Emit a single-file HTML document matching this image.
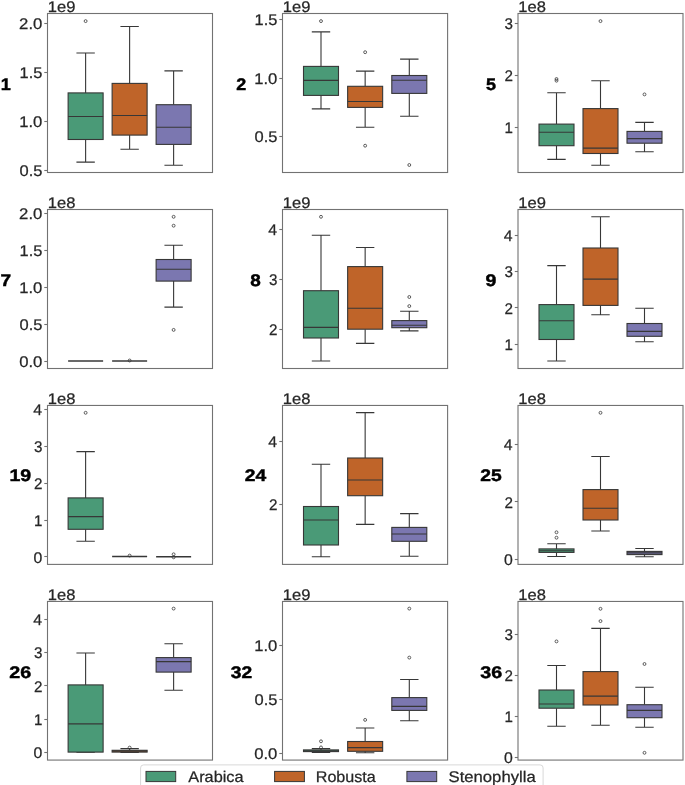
<!DOCTYPE html>
<html><head><meta charset="utf-8"><style>
html,body{margin:0;padding:0;background:#fff;width:685px;height:785px;overflow:hidden}
svg{display:block;font-family:"Liberation Sans",sans-serif;will-change:transform;text-rendering:geometricPrecision}
</style></head><body>
<svg width="685" height="785" viewBox="0 0 685 785">
<rect width="685" height="785" fill="#ffffff"/>
<path d="M85.62 92.90V53.00M85.62 139.50V162.10M76.42 53.00H94.82M76.42 162.10H94.82" stroke="#373737" stroke-width="1.1" fill="none"/>
<rect x="68.12" y="92.90" width="35.00" height="46.60" fill="#4a9a77" stroke="#373737" stroke-width="1.1"/>
<path d="M68.12 116.50H103.12" stroke="#373737" stroke-width="1.1"/>
<circle cx="85.62" cy="21.10" r="1.45" fill="none" stroke="#373737" stroke-width="0.8"/>
<path d="M129.62 83.40V26.50M129.62 135.10V149.30M120.42 26.50H138.82M120.42 149.30H138.82" stroke="#373737" stroke-width="1.1" fill="none"/>
<rect x="112.12" y="83.40" width="35.00" height="51.70" fill="#bf6429" stroke="#373737" stroke-width="1.1"/>
<path d="M112.12 115.50H147.12" stroke="#373737" stroke-width="1.1"/>
<path d="M173.62 104.70V70.90M173.62 144.40V165.30M164.42 70.90H182.82M164.42 165.30H182.82" stroke="#373737" stroke-width="1.1" fill="none"/>
<rect x="156.12" y="104.70" width="35.00" height="39.70" fill="#7b77b0" stroke="#373737" stroke-width="1.1"/>
<path d="M156.12 127.30H191.12" stroke="#373737" stroke-width="1.1"/>
<rect x="47.5" y="13.5" width="165.00" height="159.00" fill="none" stroke="#727272" stroke-width="1.1"/>
<path d="M44.30 23.50H47.5" stroke="#727272" stroke-width="1.1"/>
<text x="19.10" y="28.81" font-size="15.45" textLength="23.26" lengthAdjust="spacingAndGlyphs" fill="#262626" stroke="#262626" stroke-width="0.25">2.0</text>
<path d="M44.30 72.50H47.5" stroke="#727272" stroke-width="1.1"/>
<text x="19.55" y="77.92" font-size="15.45" textLength="22.84" lengthAdjust="spacingAndGlyphs" fill="#262626" stroke="#262626" stroke-width="0.25">1.5</text>
<path d="M44.30 121.50H47.5" stroke="#727272" stroke-width="1.1"/>
<text x="19.22" y="127.03" font-size="15.45" textLength="23.13" lengthAdjust="spacingAndGlyphs" fill="#262626" stroke="#262626" stroke-width="0.25">1.0</text>
<path d="M44.30 170.50H47.5" stroke="#727272" stroke-width="1.1"/>
<text x="19.50" y="176.14" font-size="15.45" textLength="22.89" lengthAdjust="spacingAndGlyphs" fill="#262626" stroke="#262626" stroke-width="0.25">0.5</text>
<text x="47.84" y="12.10" font-size="15.45" textLength="27.66" lengthAdjust="spacingAndGlyphs" fill="#262626" stroke="#262626" stroke-width="0.25">1e9</text>
<text x="0.88" y="89.90" font-size="16.79" font-weight="bold" textLength="10.02" lengthAdjust="spacingAndGlyphs" fill="#000" stroke="#000" stroke-width="0.45">1</text>
<path d="M321.00 66.40V31.90M321.00 95.40V108.90M311.80 31.90H330.20M311.80 108.90H330.20" stroke="#373737" stroke-width="1.1" fill="none"/>
<rect x="303.50" y="66.40" width="35.00" height="29.00" fill="#4a9a77" stroke="#373737" stroke-width="1.1"/>
<path d="M303.50 80.40H338.50" stroke="#373737" stroke-width="1.1"/>
<circle cx="321.00" cy="21.10" r="1.45" fill="none" stroke="#373737" stroke-width="0.8"/>
<path d="M365.15 86.30V71.10M365.15 107.40V127.30M355.95 71.10H374.35M355.95 127.30H374.35" stroke="#373737" stroke-width="1.1" fill="none"/>
<rect x="347.65" y="86.30" width="35.00" height="21.10" fill="#bf6429" stroke="#373737" stroke-width="1.1"/>
<path d="M347.65 101.50H382.65" stroke="#373737" stroke-width="1.1"/>
<circle cx="365.15" cy="52.20" r="1.45" fill="none" stroke="#373737" stroke-width="0.8"/>
<circle cx="365.15" cy="145.70" r="1.45" fill="none" stroke="#373737" stroke-width="0.8"/>
<path d="M409.30 75.50V59.10M409.30 93.40V116.20M400.10 59.10H418.50M400.10 116.20H418.50" stroke="#373737" stroke-width="1.1" fill="none"/>
<rect x="391.80" y="75.50" width="35.00" height="17.90" fill="#7b77b0" stroke="#373737" stroke-width="1.1"/>
<path d="M391.80 80.20H426.80" stroke="#373737" stroke-width="1.1"/>
<circle cx="409.30" cy="165.00" r="1.45" fill="none" stroke="#373737" stroke-width="0.8"/>
<rect x="282.5" y="13.5" width="165.10" height="159.00" fill="none" stroke="#727272" stroke-width="1.1"/>
<path d="M279.30 19.50H282.5" stroke="#727272" stroke-width="1.1"/>
<text x="254.55" y="25.45" font-size="15.45" textLength="22.84" lengthAdjust="spacingAndGlyphs" fill="#262626" stroke="#262626" stroke-width="0.25">1.5</text>
<path d="M279.30 78.50H282.5" stroke="#727272" stroke-width="1.1"/>
<text x="254.22" y="83.80" font-size="15.45" textLength="23.13" lengthAdjust="spacingAndGlyphs" fill="#262626" stroke="#262626" stroke-width="0.25">1.0</text>
<path d="M279.30 136.50H282.5" stroke="#727272" stroke-width="1.1"/>
<text x="254.50" y="142.15" font-size="15.45" textLength="22.89" lengthAdjust="spacingAndGlyphs" fill="#262626" stroke="#262626" stroke-width="0.25">0.5</text>
<text x="282.84" y="12.10" font-size="15.45" textLength="27.66" lengthAdjust="spacingAndGlyphs" fill="#262626" stroke="#262626" stroke-width="0.25">1e9</text>
<text x="236.36" y="89.90" font-size="16.79" font-weight="bold" textLength="9.98" lengthAdjust="spacingAndGlyphs" fill="#000" stroke="#000" stroke-width="0.45">2</text>
<path d="M556.50 124.10V92.70M556.50 145.70V159.40M547.30 92.70H565.70M547.30 159.40H565.70" stroke="#373737" stroke-width="1.1" fill="none"/>
<rect x="539.00" y="124.10" width="35.00" height="21.60" fill="#4a9a77" stroke="#373737" stroke-width="1.1"/>
<path d="M539.00 132.20H574.00" stroke="#373737" stroke-width="1.1"/>
<circle cx="556.50" cy="79.00" r="1.45" fill="none" stroke="#373737" stroke-width="0.8"/>
<circle cx="556.50" cy="80.70" r="1.45" fill="none" stroke="#373737" stroke-width="0.8"/>
<path d="M600.50 108.60V80.70M600.50 153.50V165.30M591.30 80.70H609.70M591.30 165.30H609.70" stroke="#373737" stroke-width="1.1" fill="none"/>
<rect x="583.00" y="108.60" width="35.00" height="44.90" fill="#bf6429" stroke="#373737" stroke-width="1.1"/>
<path d="M583.00 148.10H618.00" stroke="#373737" stroke-width="1.1"/>
<circle cx="600.50" cy="21.10" r="1.45" fill="none" stroke="#373737" stroke-width="0.8"/>
<path d="M644.50 131.40V122.40M644.50 143.20V151.80M635.30 122.40H653.70M635.30 151.80H653.70" stroke="#373737" stroke-width="1.1" fill="none"/>
<rect x="627.00" y="131.40" width="35.00" height="11.80" fill="#7b77b0" stroke="#373737" stroke-width="1.1"/>
<path d="M627.00 138.60H662.00" stroke="#373737" stroke-width="1.1"/>
<circle cx="644.50" cy="94.40" r="1.45" fill="none" stroke="#373737" stroke-width="0.8"/>
<rect x="518.0" y="13.5" width="165.00" height="159.00" fill="none" stroke="#727272" stroke-width="1.1"/>
<path d="M514.80 23.50H518.0" stroke="#727272" stroke-width="1.1"/>
<text x="504.42" y="28.85" font-size="15.45" textLength="8.45" lengthAdjust="spacingAndGlyphs" fill="#262626" stroke="#262626" stroke-width="0.25">3</text>
<path d="M514.80 75.50H518.0" stroke="#727272" stroke-width="1.1"/>
<text x="504.49" y="81.00" font-size="15.45" textLength="8.48" lengthAdjust="spacingAndGlyphs" fill="#262626" stroke="#262626" stroke-width="0.25">2</text>
<path d="M514.80 127.50H518.0" stroke="#727272" stroke-width="1.1"/>
<text x="504.54" y="133.15" font-size="15.45" textLength="8.40" lengthAdjust="spacingAndGlyphs" fill="#262626" stroke="#262626" stroke-width="0.25">1</text>
<text x="518.34" y="12.10" font-size="15.45" textLength="27.62" lengthAdjust="spacingAndGlyphs" fill="#262626" stroke="#262626" stroke-width="0.25">1e8</text>
<text x="485.92" y="89.90" font-size="16.79" font-weight="bold" textLength="10.00" lengthAdjust="spacingAndGlyphs" fill="#000" stroke="#000" stroke-width="0.45">5</text>
<path d="M68.12 361.00H103.12" stroke="#373737" stroke-width="1.5"/>
<path d="M112.12 361.00H147.12" stroke="#373737" stroke-width="1.5"/>
<circle cx="129.62" cy="360.50" r="1.45" fill="none" stroke="#373737" stroke-width="0.8"/>
<path d="M173.62 259.50V245.30M173.62 281.10V307.10M164.42 245.30H182.82M164.42 307.10H182.82" stroke="#373737" stroke-width="1.1" fill="none"/>
<rect x="156.12" y="259.50" width="35.00" height="21.60" fill="#7b77b0" stroke="#373737" stroke-width="1.1"/>
<path d="M156.12 269.30H191.12" stroke="#373737" stroke-width="1.1"/>
<circle cx="173.62" cy="216.80" r="1.45" fill="none" stroke="#373737" stroke-width="0.8"/>
<circle cx="173.62" cy="225.70" r="1.45" fill="none" stroke="#373737" stroke-width="0.8"/>
<circle cx="173.62" cy="329.90" r="1.45" fill="none" stroke="#373737" stroke-width="0.8"/>
<rect x="47.5" y="209.5" width="165.00" height="159.00" fill="none" stroke="#727272" stroke-width="1.1"/>
<path d="M44.30 213.50H47.5" stroke="#727272" stroke-width="1.1"/>
<text x="19.10" y="218.88" font-size="15.45" textLength="23.26" lengthAdjust="spacingAndGlyphs" fill="#262626" stroke="#262626" stroke-width="0.25">2.0</text>
<path d="M44.30 250.50H47.5" stroke="#727272" stroke-width="1.1"/>
<text x="19.55" y="255.89" font-size="15.45" textLength="22.84" lengthAdjust="spacingAndGlyphs" fill="#262626" stroke="#262626" stroke-width="0.25">1.5</text>
<path d="M44.30 287.50H47.5" stroke="#727272" stroke-width="1.1"/>
<text x="19.22" y="292.90" font-size="15.45" textLength="23.13" lengthAdjust="spacingAndGlyphs" fill="#262626" stroke="#262626" stroke-width="0.25">1.0</text>
<path d="M44.30 324.50H47.5" stroke="#727272" stroke-width="1.1"/>
<text x="19.50" y="329.91" font-size="15.45" textLength="22.89" lengthAdjust="spacingAndGlyphs" fill="#262626" stroke="#262626" stroke-width="0.25">0.5</text>
<path d="M44.30 361.50H47.5" stroke="#727272" stroke-width="1.1"/>
<text x="19.18" y="366.92" font-size="15.45" textLength="23.17" lengthAdjust="spacingAndGlyphs" fill="#262626" stroke="#262626" stroke-width="0.25">0.0</text>
<text x="47.84" y="208.10" font-size="15.45" textLength="27.62" lengthAdjust="spacingAndGlyphs" fill="#262626" stroke="#262626" stroke-width="0.25">1e8</text>
<text x="0.40" y="285.80" font-size="16.79" font-weight="bold" textLength="10.61" lengthAdjust="spacingAndGlyphs" fill="#000" stroke="#000" stroke-width="0.45">7</text>
<path d="M321.00 290.70V235.20M321.00 338.00V361.00M311.80 235.20H330.20M311.80 361.00H330.20" stroke="#373737" stroke-width="1.1" fill="none"/>
<rect x="303.50" y="290.70" width="35.00" height="47.30" fill="#4a9a77" stroke="#373737" stroke-width="1.1"/>
<path d="M303.50 327.40H338.50" stroke="#373737" stroke-width="1.1"/>
<circle cx="321.00" cy="216.80" r="1.45" fill="none" stroke="#373737" stroke-width="0.8"/>
<path d="M365.15 266.60V247.50M365.15 329.20V343.40M355.95 247.50H374.35M355.95 343.40H374.35" stroke="#373737" stroke-width="1.1" fill="none"/>
<rect x="347.65" y="266.60" width="35.00" height="62.60" fill="#bf6429" stroke="#373737" stroke-width="1.1"/>
<path d="M347.65 308.30H382.65" stroke="#373737" stroke-width="1.1"/>
<path d="M409.30 320.60V311.30M409.30 327.70V330.90M400.10 311.30H418.50M400.10 330.90H418.50" stroke="#373737" stroke-width="1.1" fill="none"/>
<rect x="391.80" y="320.60" width="35.00" height="7.10" fill="#7b77b0" stroke="#373737" stroke-width="1.1"/>
<path d="M391.80 325.20H426.80" stroke="#373737" stroke-width="1.1"/>
<circle cx="409.30" cy="297.00" r="1.45" fill="none" stroke="#373737" stroke-width="0.8"/>
<circle cx="409.30" cy="306.10" r="1.45" fill="none" stroke="#373737" stroke-width="0.8"/>
<rect x="282.5" y="209.5" width="165.10" height="159.00" fill="none" stroke="#727272" stroke-width="1.1"/>
<path d="M279.30 229.50H282.5" stroke="#727272" stroke-width="1.1"/>
<text x="268.37" y="235.15" font-size="15.45" textLength="8.79" lengthAdjust="spacingAndGlyphs" fill="#262626" stroke="#262626" stroke-width="0.25">4</text>
<path d="M279.30 279.50H282.5" stroke="#727272" stroke-width="1.1"/>
<text x="268.92" y="285.00" font-size="15.45" textLength="8.45" lengthAdjust="spacingAndGlyphs" fill="#262626" stroke="#262626" stroke-width="0.25">3</text>
<path d="M279.30 329.50H282.5" stroke="#727272" stroke-width="1.1"/>
<text x="268.99" y="334.85" font-size="15.45" textLength="8.48" lengthAdjust="spacingAndGlyphs" fill="#262626" stroke="#262626" stroke-width="0.25">2</text>
<text x="282.84" y="208.10" font-size="15.45" textLength="27.66" lengthAdjust="spacingAndGlyphs" fill="#262626" stroke="#262626" stroke-width="0.25">1e9</text>
<text x="250.33" y="285.80" font-size="16.79" font-weight="bold" textLength="10.52" lengthAdjust="spacingAndGlyphs" fill="#000" stroke="#000" stroke-width="0.45">8</text>
<path d="M556.50 304.60V265.60M556.50 339.50V361.00M547.30 265.60H565.70M547.30 361.00H565.70" stroke="#373737" stroke-width="1.1" fill="none"/>
<rect x="539.00" y="304.60" width="35.00" height="34.90" fill="#4a9a77" stroke="#373737" stroke-width="1.1"/>
<path d="M539.00 320.80H574.00" stroke="#373737" stroke-width="1.1"/>
<path d="M600.50 248.00V216.80M600.50 305.40V314.70M591.30 216.80H609.70M591.30 314.70H609.70" stroke="#373737" stroke-width="1.1" fill="none"/>
<rect x="583.00" y="248.00" width="35.00" height="57.40" fill="#bf6429" stroke="#373737" stroke-width="1.1"/>
<path d="M583.00 279.10H618.00" stroke="#373737" stroke-width="1.1"/>
<path d="M644.50 323.50V308.30M644.50 336.30V341.70M635.30 308.30H653.70M635.30 341.70H653.70" stroke="#373737" stroke-width="1.1" fill="none"/>
<rect x="627.00" y="323.50" width="35.00" height="12.80" fill="#7b77b0" stroke="#373737" stroke-width="1.1"/>
<path d="M627.00 331.40H662.00" stroke="#373737" stroke-width="1.1"/>
<rect x="518.0" y="209.5" width="165.00" height="159.00" fill="none" stroke="#727272" stroke-width="1.1"/>
<path d="M514.80 235.50H518.0" stroke="#727272" stroke-width="1.1"/>
<text x="503.87" y="240.80" font-size="15.45" textLength="8.79" lengthAdjust="spacingAndGlyphs" fill="#262626" stroke="#262626" stroke-width="0.25">4</text>
<path d="M514.80 271.50H518.0" stroke="#727272" stroke-width="1.1"/>
<text x="504.42" y="277.20" font-size="15.45" textLength="8.45" lengthAdjust="spacingAndGlyphs" fill="#262626" stroke="#262626" stroke-width="0.25">3</text>
<path d="M514.80 307.50H518.0" stroke="#727272" stroke-width="1.1"/>
<text x="504.49" y="313.60" font-size="15.45" textLength="8.48" lengthAdjust="spacingAndGlyphs" fill="#262626" stroke="#262626" stroke-width="0.25">2</text>
<path d="M514.80 344.50H518.0" stroke="#727272" stroke-width="1.1"/>
<text x="504.54" y="350.00" font-size="15.45" textLength="8.40" lengthAdjust="spacingAndGlyphs" fill="#262626" stroke="#262626" stroke-width="0.25">1</text>
<text x="518.34" y="208.10" font-size="15.45" textLength="27.66" lengthAdjust="spacingAndGlyphs" fill="#262626" stroke="#262626" stroke-width="0.25">1e9</text>
<text x="485.55" y="285.80" font-size="16.79" font-weight="bold" textLength="10.86" lengthAdjust="spacingAndGlyphs" fill="#000" stroke="#000" stroke-width="0.45">9</text>
<path d="M85.62 497.90V451.60M85.62 529.30V541.30M76.42 451.60H94.82M76.42 541.30H94.82" stroke="#373737" stroke-width="1.1" fill="none"/>
<rect x="68.12" y="497.90" width="35.00" height="31.40" fill="#4a9a77" stroke="#373737" stroke-width="1.1"/>
<path d="M68.12 516.60H103.12" stroke="#373737" stroke-width="1.1"/>
<circle cx="85.62" cy="412.80" r="1.45" fill="none" stroke="#373737" stroke-width="0.8"/>
<path d="M112.12 556.50H147.12" stroke="#373737" stroke-width="1.5"/>
<circle cx="129.62" cy="555.60" r="1.45" fill="none" stroke="#373737" stroke-width="0.8"/>
<path d="M156.12 556.80H191.12" stroke="#373737" stroke-width="1.5"/>
<circle cx="173.62" cy="554.30" r="1.45" fill="none" stroke="#373737" stroke-width="0.8"/>
<circle cx="173.62" cy="557.30" r="1.45" fill="none" stroke="#373737" stroke-width="0.8"/>
<rect x="47.5" y="405.45" width="165.00" height="158.95" fill="none" stroke="#727272" stroke-width="1.1"/>
<path d="M44.30 409.50H47.5" stroke="#727272" stroke-width="1.1"/>
<text x="33.37" y="414.82" font-size="15.45" textLength="8.79" lengthAdjust="spacingAndGlyphs" fill="#262626" stroke="#262626" stroke-width="0.25">4</text>
<path d="M44.30 446.50H47.5" stroke="#727272" stroke-width="1.1"/>
<text x="33.92" y="451.78" font-size="15.45" textLength="8.45" lengthAdjust="spacingAndGlyphs" fill="#262626" stroke="#262626" stroke-width="0.25">3</text>
<path d="M44.30 483.50H47.5" stroke="#727272" stroke-width="1.1"/>
<text x="33.99" y="488.74" font-size="15.45" textLength="8.48" lengthAdjust="spacingAndGlyphs" fill="#262626" stroke="#262626" stroke-width="0.25">2</text>
<path d="M44.30 520.50H47.5" stroke="#727272" stroke-width="1.1"/>
<text x="34.04" y="525.70" font-size="15.45" textLength="8.40" lengthAdjust="spacingAndGlyphs" fill="#262626" stroke="#262626" stroke-width="0.25">1</text>
<path d="M44.30 556.50H47.5" stroke="#727272" stroke-width="1.1"/>
<text x="33.52" y="562.66" font-size="15.45" textLength="8.79" lengthAdjust="spacingAndGlyphs" fill="#262626" stroke="#262626" stroke-width="0.25">0</text>
<text x="47.84" y="404.05" font-size="15.45" textLength="27.62" lengthAdjust="spacingAndGlyphs" fill="#262626" stroke="#262626" stroke-width="0.25">1e8</text>
<text x="9.42" y="481.10" font-size="16.79" font-weight="bold" textLength="21.76" lengthAdjust="spacingAndGlyphs" fill="#000" stroke="#000" stroke-width="0.45">19</text>
<path d="M321.00 506.50V464.30M321.00 545.00V556.80M311.80 464.30H330.20M311.80 556.80H330.20" stroke="#373737" stroke-width="1.1" fill="none"/>
<rect x="303.50" y="506.50" width="35.00" height="38.50" fill="#4a9a77" stroke="#373737" stroke-width="1.1"/>
<path d="M303.50 520.00H338.50" stroke="#373737" stroke-width="1.1"/>
<path d="M365.15 458.00V412.60M365.15 495.70V524.40M355.95 412.60H374.35M355.95 524.40H374.35" stroke="#373737" stroke-width="1.1" fill="none"/>
<rect x="347.65" y="458.00" width="35.00" height="37.70" fill="#bf6429" stroke="#373737" stroke-width="1.1"/>
<path d="M347.65 480.00H382.65" stroke="#373737" stroke-width="1.1"/>
<path d="M409.30 527.40V513.60M409.30 541.30V556.30M400.10 513.60H418.50M400.10 556.30H418.50" stroke="#373737" stroke-width="1.1" fill="none"/>
<rect x="391.80" y="527.40" width="35.00" height="13.90" fill="#7b77b0" stroke="#373737" stroke-width="1.1"/>
<path d="M391.80 534.00H426.80" stroke="#373737" stroke-width="1.1"/>
<rect x="282.5" y="405.45" width="165.10" height="158.95" fill="none" stroke="#727272" stroke-width="1.1"/>
<path d="M279.30 441.50H282.5" stroke="#727272" stroke-width="1.1"/>
<text x="268.37" y="447.30" font-size="15.45" textLength="8.79" lengthAdjust="spacingAndGlyphs" fill="#262626" stroke="#262626" stroke-width="0.25">4</text>
<path d="M279.30 504.50H282.5" stroke="#727272" stroke-width="1.1"/>
<text x="268.99" y="510.10" font-size="15.45" textLength="8.48" lengthAdjust="spacingAndGlyphs" fill="#262626" stroke="#262626" stroke-width="0.25">2</text>
<text x="282.84" y="404.05" font-size="15.45" textLength="27.62" lengthAdjust="spacingAndGlyphs" fill="#262626" stroke="#262626" stroke-width="0.25">1e8</text>
<text x="244.76" y="481.10" font-size="16.79" font-weight="bold" textLength="21.42" lengthAdjust="spacingAndGlyphs" fill="#000" stroke="#000" stroke-width="0.45">24</text>
<path d="M556.50 548.90V543.80M556.50 552.40V556.50M547.30 543.80H565.70M547.30 556.50H565.70" stroke="#373737" stroke-width="1.1" fill="none"/>
<rect x="539.00" y="548.90" width="35.00" height="3.50" fill="#4a9a77" stroke="#373737" stroke-width="1.1"/>
<path d="M539.00 550.70H574.00" stroke="#373737" stroke-width="1.1"/>
<circle cx="556.50" cy="532.30" r="1.45" fill="none" stroke="#373737" stroke-width="0.8"/>
<circle cx="556.50" cy="537.70" r="1.45" fill="none" stroke="#373737" stroke-width="0.8"/>
<path d="M600.50 489.60V456.50M600.50 520.00V531.00M591.30 456.50H609.70M591.30 531.00H609.70" stroke="#373737" stroke-width="1.1" fill="none"/>
<rect x="583.00" y="489.60" width="35.00" height="30.40" fill="#bf6429" stroke="#373737" stroke-width="1.1"/>
<path d="M583.00 508.20H618.00" stroke="#373737" stroke-width="1.1"/>
<circle cx="600.50" cy="412.80" r="1.45" fill="none" stroke="#373737" stroke-width="0.8"/>
<path d="M644.50 551.40V548.50M644.50 554.60V556.80M635.30 548.50H653.70M635.30 556.80H653.70" stroke="#373737" stroke-width="1.1" fill="none"/>
<rect x="627.00" y="551.40" width="35.00" height="3.20" fill="#7b77b0" stroke="#373737" stroke-width="1.1"/>
<path d="M627.00 552.90H662.00" stroke="#373737" stroke-width="1.1"/>
<rect x="518.0" y="405.45" width="165.00" height="158.95" fill="none" stroke="#727272" stroke-width="1.1"/>
<path d="M514.80 444.50H518.0" stroke="#727272" stroke-width="1.1"/>
<text x="503.87" y="450.47" font-size="15.45" textLength="8.79" lengthAdjust="spacingAndGlyphs" fill="#262626" stroke="#262626" stroke-width="0.25">4</text>
<path d="M514.80 501.50H518.0" stroke="#727272" stroke-width="1.1"/>
<text x="504.49" y="507.67" font-size="15.45" textLength="8.48" lengthAdjust="spacingAndGlyphs" fill="#262626" stroke="#262626" stroke-width="0.25">2</text>
<path d="M514.80 559.50H518.0" stroke="#727272" stroke-width="1.1"/>
<text x="504.02" y="564.87" font-size="15.45" textLength="8.79" lengthAdjust="spacingAndGlyphs" fill="#262626" stroke="#262626" stroke-width="0.25">0</text>
<text x="518.34" y="404.05" font-size="15.45" textLength="27.62" lengthAdjust="spacingAndGlyphs" fill="#262626" stroke="#262626" stroke-width="0.25">1e8</text>
<text x="480.25" y="481.10" font-size="16.79" font-weight="bold" textLength="21.46" lengthAdjust="spacingAndGlyphs" fill="#000" stroke="#000" stroke-width="0.45">25</text>
<path d="M85.62 684.90V653.00M85.62 752.10V752.30M76.42 653.00H94.82M76.42 752.30H94.82" stroke="#373737" stroke-width="1.1" fill="none"/>
<rect x="68.12" y="684.90" width="35.00" height="67.20" fill="#4a9a77" stroke="#373737" stroke-width="1.1"/>
<path d="M68.12 723.90H103.12" stroke="#373737" stroke-width="1.1"/>
<path d="M129.62 750.30V748.60M129.62 752.10V752.50M120.42 748.60H138.82M120.42 752.50H138.82" stroke="#373737" stroke-width="1.1" fill="none"/>
<rect x="112.12" y="750.30" width="35.00" height="1.80" fill="#bf6429" stroke="#373737" stroke-width="1.1"/>
<path d="M112.12 751.10H147.12" stroke="#373737" stroke-width="1.1"/>
<circle cx="129.62" cy="747.60" r="1.45" fill="none" stroke="#373737" stroke-width="0.8"/>
<path d="M173.62 657.60V643.70M173.62 672.10V690.30M164.42 643.70H182.82M164.42 690.30H182.82" stroke="#373737" stroke-width="1.1" fill="none"/>
<rect x="156.12" y="657.60" width="35.00" height="14.50" fill="#7b77b0" stroke="#373737" stroke-width="1.1"/>
<path d="M156.12 661.60H191.12" stroke="#373737" stroke-width="1.1"/>
<circle cx="173.62" cy="608.60" r="1.45" fill="none" stroke="#373737" stroke-width="0.8"/>
<rect x="47.5" y="601.45" width="165.00" height="158.62" fill="none" stroke="#727272" stroke-width="1.1"/>
<path d="M44.30 619.50H47.5" stroke="#727272" stroke-width="1.1"/>
<text x="33.37" y="624.88" font-size="15.45" textLength="8.79" lengthAdjust="spacingAndGlyphs" fill="#262626" stroke="#262626" stroke-width="0.25">4</text>
<path d="M44.30 652.50H47.5" stroke="#727272" stroke-width="1.1"/>
<text x="33.92" y="658.20" font-size="15.45" textLength="8.45" lengthAdjust="spacingAndGlyphs" fill="#262626" stroke="#262626" stroke-width="0.25">3</text>
<path d="M44.30 685.50H47.5" stroke="#727272" stroke-width="1.1"/>
<text x="33.99" y="691.52" font-size="15.45" textLength="8.48" lengthAdjust="spacingAndGlyphs" fill="#262626" stroke="#262626" stroke-width="0.25">2</text>
<path d="M44.30 719.50H47.5" stroke="#727272" stroke-width="1.1"/>
<text x="34.04" y="724.84" font-size="15.45" textLength="8.40" lengthAdjust="spacingAndGlyphs" fill="#262626" stroke="#262626" stroke-width="0.25">1</text>
<path d="M44.30 752.50H47.5" stroke="#727272" stroke-width="1.1"/>
<text x="33.52" y="758.16" font-size="15.45" textLength="8.79" lengthAdjust="spacingAndGlyphs" fill="#262626" stroke="#262626" stroke-width="0.25">0</text>
<text x="47.84" y="600.05" font-size="15.45" textLength="27.62" lengthAdjust="spacingAndGlyphs" fill="#262626" stroke="#262626" stroke-width="0.25">1e8</text>
<text x="9.26" y="677.50" font-size="16.79" font-weight="bold" textLength="21.91" lengthAdjust="spacingAndGlyphs" fill="#000" stroke="#000" stroke-width="0.45">26</text>
<path d="M321.00 749.90V748.60M321.00 751.60V752.50M311.80 748.60H330.20M311.80 752.50H330.20" stroke="#373737" stroke-width="1.1" fill="none"/>
<rect x="303.50" y="749.90" width="35.00" height="1.70" fill="#4a9a77" stroke="#373737" stroke-width="1.1"/>
<path d="M303.50 750.80H338.50" stroke="#373737" stroke-width="1.1"/>
<circle cx="321.00" cy="741.30" r="1.45" fill="none" stroke="#373737" stroke-width="0.8"/>
<circle cx="321.00" cy="747.40" r="1.45" fill="none" stroke="#373737" stroke-width="0.8"/>
<path d="M365.15 741.50V728.00M365.15 751.30V752.80M355.95 728.00H374.35M355.95 752.80H374.35" stroke="#373737" stroke-width="1.1" fill="none"/>
<rect x="347.65" y="741.50" width="35.00" height="9.80" fill="#bf6429" stroke="#373737" stroke-width="1.1"/>
<path d="M347.65 747.60H382.65" stroke="#373737" stroke-width="1.1"/>
<circle cx="365.15" cy="719.90" r="1.45" fill="none" stroke="#373737" stroke-width="0.8"/>
<path d="M409.30 697.60V679.50M409.30 710.40V720.70M400.10 679.50H418.50M400.10 720.70H418.50" stroke="#373737" stroke-width="1.1" fill="none"/>
<rect x="391.80" y="697.60" width="35.00" height="12.80" fill="#7b77b0" stroke="#373737" stroke-width="1.1"/>
<path d="M391.80 706.40H426.80" stroke="#373737" stroke-width="1.1"/>
<circle cx="409.30" cy="608.60" r="1.45" fill="none" stroke="#373737" stroke-width="0.8"/>
<circle cx="409.30" cy="657.60" r="1.45" fill="none" stroke="#373737" stroke-width="0.8"/>
<rect x="282.5" y="601.45" width="165.10" height="158.62" fill="none" stroke="#727272" stroke-width="1.1"/>
<path d="M279.30 645.50H282.5" stroke="#727272" stroke-width="1.1"/>
<text x="254.22" y="651.00" font-size="15.45" textLength="23.13" lengthAdjust="spacingAndGlyphs" fill="#262626" stroke="#262626" stroke-width="0.25">1.0</text>
<path d="M279.30 699.50H282.5" stroke="#727272" stroke-width="1.1"/>
<text x="254.50" y="704.90" font-size="15.45" textLength="22.89" lengthAdjust="spacingAndGlyphs" fill="#262626" stroke="#262626" stroke-width="0.25">0.5</text>
<path d="M279.30 753.50H282.5" stroke="#727272" stroke-width="1.1"/>
<text x="254.18" y="758.80" font-size="15.45" textLength="23.17" lengthAdjust="spacingAndGlyphs" fill="#262626" stroke="#262626" stroke-width="0.25">0.0</text>
<text x="282.84" y="600.05" font-size="15.45" textLength="27.66" lengthAdjust="spacingAndGlyphs" fill="#262626" stroke="#262626" stroke-width="0.25">1e9</text>
<text x="230.72" y="677.50" font-size="16.79" font-weight="bold" textLength="21.39" lengthAdjust="spacingAndGlyphs" fill="#000" stroke="#000" stroke-width="0.45">32</text>
<path d="M556.50 690.00V665.50M556.50 708.20V726.30M547.30 665.50H565.70M547.30 726.30H565.70" stroke="#373737" stroke-width="1.1" fill="none"/>
<rect x="539.00" y="690.00" width="35.00" height="18.20" fill="#4a9a77" stroke="#373737" stroke-width="1.1"/>
<path d="M539.00 704.00H574.00" stroke="#373737" stroke-width="1.1"/>
<circle cx="556.50" cy="641.40" r="1.45" fill="none" stroke="#373737" stroke-width="0.8"/>
<path d="M600.50 671.60V628.40M600.50 705.00V725.30M591.30 628.40H609.70M591.30 725.30H609.70" stroke="#373737" stroke-width="1.1" fill="none"/>
<rect x="583.00" y="671.60" width="35.00" height="33.40" fill="#bf6429" stroke="#373737" stroke-width="1.1"/>
<path d="M583.00 696.10H618.00" stroke="#373737" stroke-width="1.1"/>
<circle cx="600.50" cy="608.80" r="1.45" fill="none" stroke="#373737" stroke-width="0.8"/>
<circle cx="600.50" cy="621.10" r="1.45" fill="none" stroke="#373737" stroke-width="0.8"/>
<path d="M644.50 704.70V687.30M644.50 717.70V727.30M635.30 687.30H653.70M635.30 727.30H653.70" stroke="#373737" stroke-width="1.1" fill="none"/>
<rect x="627.00" y="704.70" width="35.00" height="13.00" fill="#7b77b0" stroke="#373737" stroke-width="1.1"/>
<path d="M627.00 710.40H662.00" stroke="#373737" stroke-width="1.1"/>
<circle cx="644.50" cy="664.00" r="1.45" fill="none" stroke="#373737" stroke-width="0.8"/>
<circle cx="644.50" cy="752.80" r="1.45" fill="none" stroke="#373737" stroke-width="0.8"/>
<rect x="518.0" y="601.45" width="165.00" height="158.62" fill="none" stroke="#727272" stroke-width="1.1"/>
<path d="M514.80 634.50H518.0" stroke="#727272" stroke-width="1.1"/>
<text x="504.42" y="640.19" font-size="15.45" textLength="8.45" lengthAdjust="spacingAndGlyphs" fill="#262626" stroke="#262626" stroke-width="0.25">3</text>
<path d="M514.80 675.50H518.0" stroke="#727272" stroke-width="1.1"/>
<text x="504.49" y="681.08" font-size="15.45" textLength="8.48" lengthAdjust="spacingAndGlyphs" fill="#262626" stroke="#262626" stroke-width="0.25">2</text>
<path d="M514.80 716.50H518.0" stroke="#727272" stroke-width="1.1"/>
<text x="504.54" y="721.97" font-size="15.45" textLength="8.40" lengthAdjust="spacingAndGlyphs" fill="#262626" stroke="#262626" stroke-width="0.25">1</text>
<path d="M514.80 757.50H518.0" stroke="#727272" stroke-width="1.1"/>
<text x="504.02" y="762.86" font-size="15.45" textLength="8.79" lengthAdjust="spacingAndGlyphs" fill="#262626" stroke="#262626" stroke-width="0.25">0</text>
<text x="518.34" y="600.05" font-size="15.45" textLength="27.62" lengthAdjust="spacingAndGlyphs" fill="#262626" stroke="#262626" stroke-width="0.25">1e8</text>
<text x="480.24" y="677.50" font-size="16.79" font-weight="bold" textLength="21.88" lengthAdjust="spacingAndGlyphs" fill="#000" stroke="#000" stroke-width="0.45">36</text>
<rect x="140.6" y="764.9" width="402.5" height="30" rx="3" ry="3" fill="#ffffff" fill-opacity="0.8" stroke="#d8d8d8" stroke-width="1.0"/>
<rect x="146.0" y="771.4" width="29.70" height="10.2" fill="#4a9a77" stroke="#373737" stroke-width="1.0"/>
<text x="188.27" y="781.80" font-size="15.45" textLength="55.30" lengthAdjust="spacingAndGlyphs" fill="#262626" stroke="#262626" stroke-width="0.25">Arabica</text>
<rect x="274.6" y="771.4" width="29.80" height="10.2" fill="#bf6429" stroke="#373737" stroke-width="1.0"/>
<text x="315.78" y="781.80" font-size="15.45" textLength="60.00" lengthAdjust="spacingAndGlyphs" fill="#262626" stroke="#262626" stroke-width="0.25">Robusta</text>
<rect x="406.9" y="771.4" width="29.80" height="10.2" fill="#7b77b0" stroke="#373737" stroke-width="1.0"/>
<text x="448.54" y="781.80" font-size="15.45" textLength="87.15" lengthAdjust="spacingAndGlyphs" fill="#262626" stroke="#262626" stroke-width="0.25">Stenophylla</text>
</svg>
</body></html>
